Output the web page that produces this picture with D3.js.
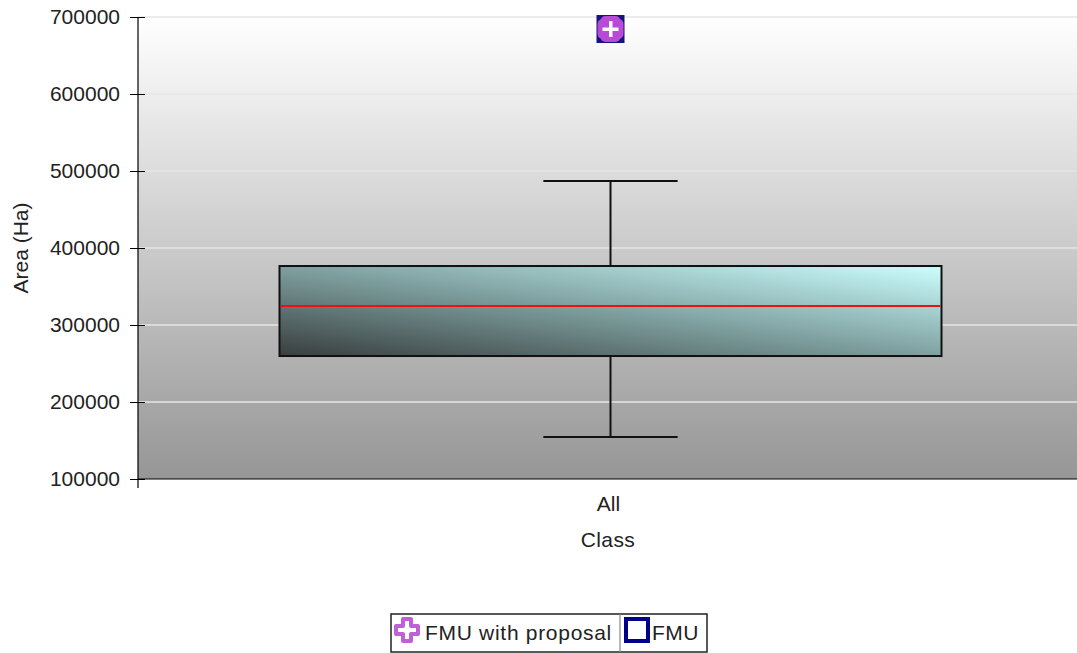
<!DOCTYPE html>
<html><head><meta charset="utf-8">
<script src="https://cdn.jsdelivr.net/npm/d3@7"></script>
<style>body{margin:0;background:#fff;}text{font-family:"Liberation Sans",Arial,sans-serif;}</style>
</head><body><svg id="c" width="1077" height="653"></svg>
<script>
const categories = ["All"];
const q1 = [259700];
const median = [324700];
const q3 = [376600];
const whiskerLow = [154500];
const whiskerHigh = [487000];
const outliers = [684400];
const yTicks = [100000,200000,300000,400000,500000,600000,700000];
const legendItems = ["FMU with proposal","FMU"];

const FS = 21;
const svg = d3.select("#c");
const L=138, R=1077, T=17, B=479;
const x = d3.scaleBand().domain(categories).range([L,R]).paddingInner(0).paddingOuter(0);
const y = d3.scaleLinear().domain([100000,700000]).range([B,T]);
const defs = svg.append("defs");
const bg = defs.append("linearGradient").attr("id","bg").attr("x1",0).attr("y1",0).attr("x2",0).attr("y2",1);
bg.append("stop").attr("offset","0%").attr("stop-color","#ffffff");
bg.append("stop").attr("offset","100%").attr("stop-color","#969696");
const bx = defs.append("linearGradient").attr("id","bx").attr("x1",0).attr("y1",1).attr("x2",1).attr("y2",0);
bx.append("stop").attr("offset","0%").attr("stop-color","#383e3e");
bx.append("stop").attr("offset","50%").attr("stop-color","#7fa0a0");
bx.append("stop").attr("offset","100%").attr("stop-color","#ccffff");

svg.append("rect").attr("x",L).attr("y",T).attr("width",R-L).attr("height",B-T).attr("fill","url(#bg)");
svg.append("g").selectAll("line").data(yTicks.slice(1)).join("line")
  .attr("x1",L).attr("x2",R).attr("y1",d=>y(d)).attr("y2",d=>y(d))
  .attr("stroke","#e6e6e6").attr("stroke-width",1.5);

const ya = svg.append("g").attr("transform",`translate(${L},0)`)
  .call(d3.axisLeft(y).tickValues(yTicks).tickFormat(d3.format("d")).tickSize(8).tickPadding(10));
ya.select(".domain").remove();
ya.selectAll(".tick line").attr("x2",-8).attr("x1",7).attr("stroke","#000");
ya.selectAll("text").attr("font-size",FS).attr("fill","#222").attr("font-family","'Liberation Sans',Arial,sans-serif");
svg.append("line").attr("x1",L).attr("x2",L).attr("y1",T).attr("y2",B+9).attr("stroke","#000").attr("stroke-width",1.2);
svg.append("line").attr("x1",L).attr("x2",R).attr("y1",B).attr("y2",B).attr("stroke","#000").attr("stroke-width",1.2);
svg.append("g").selectAll("text").data(categories).join("text")
  .attr("x",d=>x(d)+x.bandwidth()/2+1).attr("y",511).attr("text-anchor","middle")
  .attr("font-size",FS).attr("fill","#222").text(d=>d);
svg.append("text").attr("x",608).attr("y",547).attr("text-anchor","middle").attr("font-size",FS).attr("fill","#222").attr("letter-spacing",0.4).text("Class");
svg.append("text").attr("transform","translate(28,248) rotate(-90)").attr("text-anchor","middle").attr("font-size",FS).attr("fill","#222").text("Area (Ha)");

const bw = x.bandwidth()*0.705;
const capW = x.bandwidth()*0.143;
categories.forEach((c,i)=>{
  const cx = x(c)+x.bandwidth()/2+3;
  const g = svg.append("g");
  g.append("line").attr("x1",cx).attr("x2",cx).attr("y1",y(whiskerHigh[i])).attr("y2",y(q3[i])).attr("stroke","#111").attr("stroke-width",2);
  g.append("line").attr("x1",cx).attr("x2",cx).attr("y1",y(q1[i])).attr("y2",y(whiskerLow[i])).attr("stroke","#111").attr("stroke-width",2);
  g.append("line").attr("x1",cx-capW/2).attr("x2",cx+capW/2).attr("y1",y(whiskerHigh[i])).attr("y2",y(whiskerHigh[i])).attr("stroke","#111").attr("stroke-width",2);
  g.append("line").attr("x1",cx-capW/2).attr("x2",cx+capW/2).attr("y1",y(whiskerLow[i])).attr("y2",y(whiskerLow[i])).attr("stroke","#111").attr("stroke-width",2);
  g.append("rect").attr("x",cx-bw/2).attr("y",y(q3[i])).attr("width",bw).attr("height",y(q1[i])-y(q3[i]))
    .attr("fill","url(#bx)").attr("stroke","#111").attr("stroke-width",2);
  g.append("line").attr("x1",cx-bw/2+1).attr("x2",cx+bw/2-1).attr("y1",y(median[i])).attr("y2",y(median[i])).attr("stroke","#ee1111").attr("stroke-width",2);
  const oy = y(outliers[i]);
  g.append("rect").attr("x",cx-14).attr("y",oy-14).attr("width",28).attr("height",28).attr("fill","#14147a");
  g.append("rect").attr("x",cx-13).attr("y",oy-10).attr("width",26).attr("height",20).attr("rx",5).attr("fill","#b84ad8");
  g.append("rect").attr("x",cx-10).attr("y",oy-13).attr("width",20).attr("height",26).attr("rx",5).attr("fill","#b84ad8");
  g.append("rect").attr("x",cx-8).attr("y",oy-1.5).attr("width",16).attr("height",3.5).attr("fill","#fff");
  g.append("rect").attr("x",cx-1.5).attr("y",oy-8).attr("width",3.5).attr("height",16).attr("fill","#fff");
});

const lg = svg.append("g");
lg.append("rect").attr("x",391).attr("y",614).attr("width",316).attr("height",38).attr("fill","#fff").attr("stroke","#222").attr("stroke-width",1.5);
lg.append("line").attr("x1",620).attr("x2",620).attr("y1",614).attr("y2",652).attr("stroke","#888").attr("stroke-width",1.2);
const plus = "M-4,-11 H4 V-4 H11 V4 H4 V11 H-4 V4 H-11 V-4 H-4 Z";
lg.append("path").attr("d",plus).attr("transform","translate(407,630)").attr("fill","#fff").attr("stroke","#c060d8").attr("stroke-width",4).attr("stroke-linejoin","round");
lg.append("text").attr("x",425).attr("y",640).attr("font-size",FS).attr("fill","#222").attr("letter-spacing",0.7).text(legendItems[0]);
lg.append("rect").attr("x",626).attr("y",619).attr("width",22).attr("height",22).attr("fill","#fff").attr("stroke","#000088").attr("stroke-width",4);
lg.append("text").attr("x",652).attr("y",640).attr("font-size",FS).attr("fill","#222").attr("letter-spacing",0.5).text(legendItems[1]);
</script></body></html>
